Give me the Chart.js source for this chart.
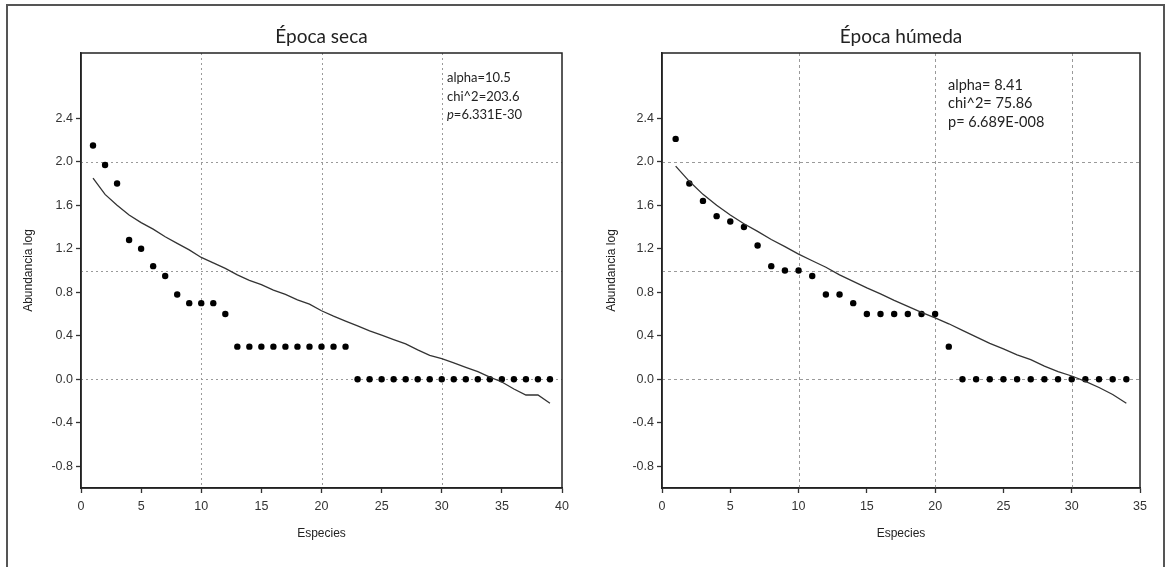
<!DOCTYPE html>
<html>
<head>
<meta charset="utf-8">
<script src="https://cdn.jsdelivr.net/npm/chart.js@4.4.0/dist/chart.umd.min.js"></script>
<style>
  html, body { margin: 0; padding: 0; background: #fff; overflow: hidden; width: 1167px; height: 567px; }
  #frame { position: absolute; left: 6px; top: 4px; width: 1159px; height: 620px; border: 2px solid #555; box-sizing: border-box; }
  canvas { position: absolute; top: 0; }
  #graphSeca { left: 0; }
  #graphHumeda { left: 590px; }
</style>
</head>
<body>
<div id="frame"></div>
<canvas id="graphSeca" width="620" height="567"></canvas>
<canvas id="graphHumeda" width="622" height="567"></canvas>
<script>
// Época seca: log abundancia observada por rango de especie y curva esperada
const obsSeca = [2.15, 1.97, 1.80, 1.28, 1.20, 1.04, 0.95, 0.78, 0.70, 0.70, 0.70, 0.60,
  0.30, 0.30, 0.30, 0.30, 0.30, 0.30, 0.30, 0.30, 0.30, 0.30,
  0, 0, 0, 0, 0, 0, 0, 0, 0, 0, 0, 0, 0, 0, 0, 0, 0];
const fitSeca = [1.85, 1.70, 1.60, 1.51, 1.44, 1.38, 1.31, 1.25, 1.19, 1.12,
  1.07, 1.02, 0.96, 0.91, 0.87, 0.82, 0.78, 0.73, 0.69, 0.63,
  0.58, 0.535, 0.49, 0.445, 0.405, 0.365, 0.325, 0.27, 0.22, 0.19,
  0.15, 0.11, 0.07, 0.02, -0.025, -0.09, -0.145, -0.145, -0.22];
const statsSeca = ['alpha=10.5', 'chi^2=203.6', 'p=6.331E-30'];

// Época húmeda
const obsHumeda = [2.21, 1.80, 1.64, 1.50, 1.45, 1.40, 1.23, 1.04, 1.00, 1.00,
  0.95, 0.78, 0.78, 0.70, 0.60, 0.60, 0.60, 0.60, 0.60, 0.60, 0.30,
  0, 0, 0, 0, 0, 0, 0, 0, 0, 0, 0, 0, 0];
const fitHumeda = [1.96, 1.82, 1.70, 1.60, 1.51, 1.43, 1.36, 1.285, 1.22, 1.15,
  1.09, 1.03, 0.96, 0.90, 0.84, 0.785, 0.725, 0.67, 0.615, 0.565,
  0.51, 0.45, 0.39, 0.33, 0.28, 0.225, 0.18, 0.12, 0.07, 0.03,
  -0.02, -0.076, -0.14, -0.22];
const statsHumeda = ['alpha= 8.41', 'chi^2= 75.86', 'p= 6.689E-008'];

const yTicks = [-0.8, -0.4, 0.0, 0.4, 0.8, 1.2, 1.6, 2.0, 2.4];
const yGrid = [0, 1, 2];
const xGrid = [10, 20, 30];

const axisFont = { family: '"Liberation Sans", Arial, sans-serif', size: 12.5 };
const titleFont = { family: '"Liberation Sans", Arial, sans-serif', size: 12 };

function toPoints(arr) {
  return arr.map((v, i) => ({ x: i + 1, y: v }));
}

function makeChart(id, cfg) {
  // dotted reference lines and the box round the plot
  const gridLines = {
    id: 'gridLines',
    beforeDatasetsDraw(chart) {
      const { ctx, chartArea: a, scales: { x, y } } = chart;
      ctx.save();
      ctx.strokeStyle = '#9a9a9a';
      ctx.lineWidth = 1;
      ctx.setLineDash(cfg.dash);
      xGrid.forEach(v => {
        const px = Math.round(x.getPixelForValue(v)) + 0.5;
        ctx.beginPath(); ctx.moveTo(px, a.top); ctx.lineTo(px, a.bottom); ctx.stroke();
      });
      yGrid.forEach(v => {
        const py = Math.round(y.getPixelForValue(v)) + 0.5;
        ctx.beginPath(); ctx.moveTo(a.left, py); ctx.lineTo(a.right, py); ctx.stroke();
      });
      ctx.restore();
    },
    afterDraw(chart) {
      const { ctx, chartArea: a } = chart;
      ctx.save();
      ctx.strokeStyle = '#222';
      ctx.lineWidth = 1.5;
      ctx.strokeRect(a.left, a.top, a.right - a.left, a.bottom - a.top);
      ctx.restore();
    }
  };

  const stats = {
    id: 'stats',
    afterDraw(chart) {
      const { ctx, chartArea: a } = chart;
      const face = cfg.statsSize + 'px Lato, "Open Sans", sans-serif';
      ctx.save();
      ctx.fillStyle = '#222';
      ctx.textBaseline = 'middle';
      cfg.stats.forEach((line, i) => {
        const x = a.left + cfg.statsX;
        const y = a.top + cfg.statsY + i * cfg.statsGap;
        if (cfg.italicP && line.startsWith('p=')) {
          ctx.font = 'italic ' + face;
          ctx.fillText('p', x, y);
          const w = ctx.measureText('p').width;
          ctx.font = face;
          ctx.fillText(line.slice(1), x + w, y);
        } else {
          ctx.font = face;
          ctx.fillText(line, x, y);
        }
      });
      ctx.restore();
    }
  };

  return new Chart(document.getElementById(id), {
    type: 'scatter',
    data: {
      datasets: [{
        label: 'Esperado',
        data: toPoints(cfg.fit),
        showLine: true,
        pointRadius: 0,
        borderColor: '#333',
        borderWidth: 1.3,
        tension: 0
      }, {
        label: 'Observado',
        data: toPoints(cfg.obs),
        pointRadius: 3.2,
        pointBackgroundColor: '#000',
        pointBorderWidth: 0,
        showLine: false
      }]
    },
    options: {
      responsive: false,
      animation: false,
      layout: { padding: { left: 0, right: cfg.padRight, top: 0, bottom: 0 } },
      plugins: {
        legend: { display: false },
        tooltip: { enabled: false },
        title: {
          display: true,
          text: cfg.title,
          fullSize: false,
          color: '#222',
          font: { family: 'Lato, "Open Sans", sans-serif', size: 19, weight: 'normal' },
          padding: { top: 25.5, bottom: 4.7 }
        }
      },
      scales: {
        x: {
          type: 'linear',
          min: 0,
          max: cfg.xMax,
          afterFit(s) { s.height = 79; },
          ticks: { stepSize: 5, color: '#333', font: axisFont, padding: 6, maxRotation: 0 },
          grid: { drawOnChartArea: false, tickLength: 5, tickColor: '#333', tickWidth: 1.3 },
          border: { color: '#222', width: 1.5 },
          title: { display: true, text: 'Especies', color: '#222', font: titleFont, padding: { top: 0, bottom: 26 } }
        },
        y: {
          type: 'linear',
          min: -1,
          max: 3,
          afterBuildTicks(s) { s.ticks = yTicks.map(v => ({ value: v })); },
          afterFit(s) { s.width = cfg.yWidth; },
          ticks: { color: '#333', font: axisFont, padding: 3, callback: v => v.toFixed(1) },
          grid: { drawOnChartArea: false, tickLength: 5, tickColor: '#333', tickWidth: 1.3 },
          border: { color: '#222', width: 1.5 },
          title: { display: true, text: 'Abundancia log', color: '#222', font: titleFont, padding: { top: cfg.yTitlePad, bottom: 0 } }
        }
      }
    },
    plugins: [gridLines, stats]
  });
}

makeChart('graphSeca', {
  title: 'Época seca',
  obs: obsSeca, fit: fitSeca, stats: statsSeca, italicP: true,
  xMax: 40, padRight: 58, yWidth: 81, yTitlePad: 21,
  dash: [2, 3],
  statsX: 366, statsY: 25, statsGap: 18.5, statsSize: 13
});

makeChart('graphHumeda', {
  title: 'Época húmeda',
  obs: obsHumeda, fit: fitHumeda, stats: statsHumeda, italicP: false,
  xMax: 35, padRight: 72, yWidth: 72, yTitlePad: 14,
  dash: [3, 3],
  statsX: 286, statsY: 32, statsGap: 18.5, statsSize: 14.5
});
</script>
</body>
</html>
